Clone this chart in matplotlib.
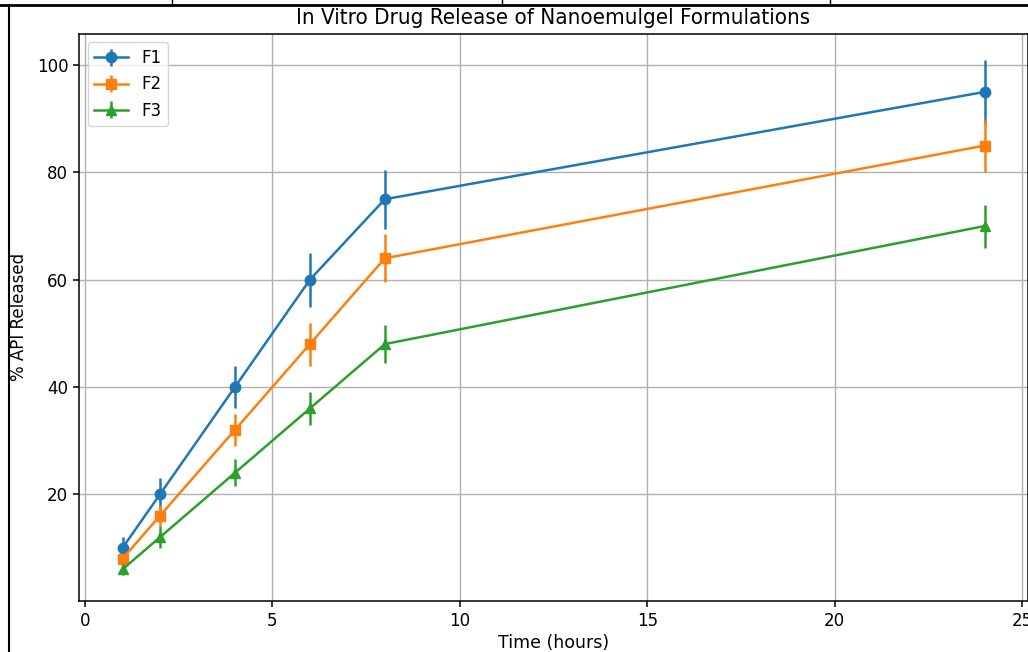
import matplotlib
matplotlib.use("Agg")
import matplotlib.pyplot as plt
from matplotlib.lines import Line2D

time_h = [1, 2, 4, 6, 8, 24]
f1 = [10, 20, 40, 60, 75, 95]
f1_err = [2, 3, 4, 5, 5.5, 6]
f2 = [8, 16, 32, 48, 64, 85]
f2_err = [1.5, 2, 3, 4, 4.5, 5]
f3 = [6, 12, 24, 36, 48, 70]
f3_err = [1, 2, 2.5, 3, 3.5, 4]
labels = ["F1", "F2", "F3"]

W, H = 1028, 652
fig = plt.figure(figsize=(W / 100, H / 100), dpi=100)
ax = fig.add_axes([79.4 / W, (H - 600.5) / H, 948.2 / W, 566.5 / H])

lw, ms = 1.8, 7.5
ax.errorbar(time_h, f1, yerr=f1_err, marker="o", label=labels[0], lw=lw, ms=ms, elinewidth=lw)
ax.errorbar(time_h, f2, yerr=f2_err, marker="s", label=labels[1], lw=lw, ms=ms, elinewidth=lw)
ax.errorbar(time_h, f3, yerr=f3_err, marker="^", label=labels[2], lw=lw, ms=ms, elinewidth=lw)

ax.set_title("In Vitro Drug Release of Nanoemulgel Formulations", fontsize=16, pad=7,
             fontstretch="condensed")
ax.set_xlabel("Time (hours)", fontsize=12.5, labelpad=3)
ax.set_ylabel("% API Released", fontsize=12, labelpad=6.5)
ax.tick_params(labelsize=12, width=1.1, length=4.5)
ax.grid(True, lw=1.0)
for s in ax.spines.values():
    s.set_linewidth(1.1)
ax.legend(loc="upper left", fontsize=12)

# screenshot frame artifacts
fig.add_artist(Line2D([8.5 / W, 8.5 / W], [0, (H - 5) / H], transform=fig.transFigure,
                      color="black", lw=1.5))
fig.add_artist(Line2D([0, 1], [(H - 5) / H, (H - 5) / H], transform=fig.transFigure,
                      color="black", lw=2))
for xp in [172, 502, 830]:
    fig.add_artist(Line2D([xp / W, xp / W], [(H - 4) / H, 1], transform=fig.transFigure,
                          color="black", lw=1))

fig.savefig("out.png", dpi=100)
